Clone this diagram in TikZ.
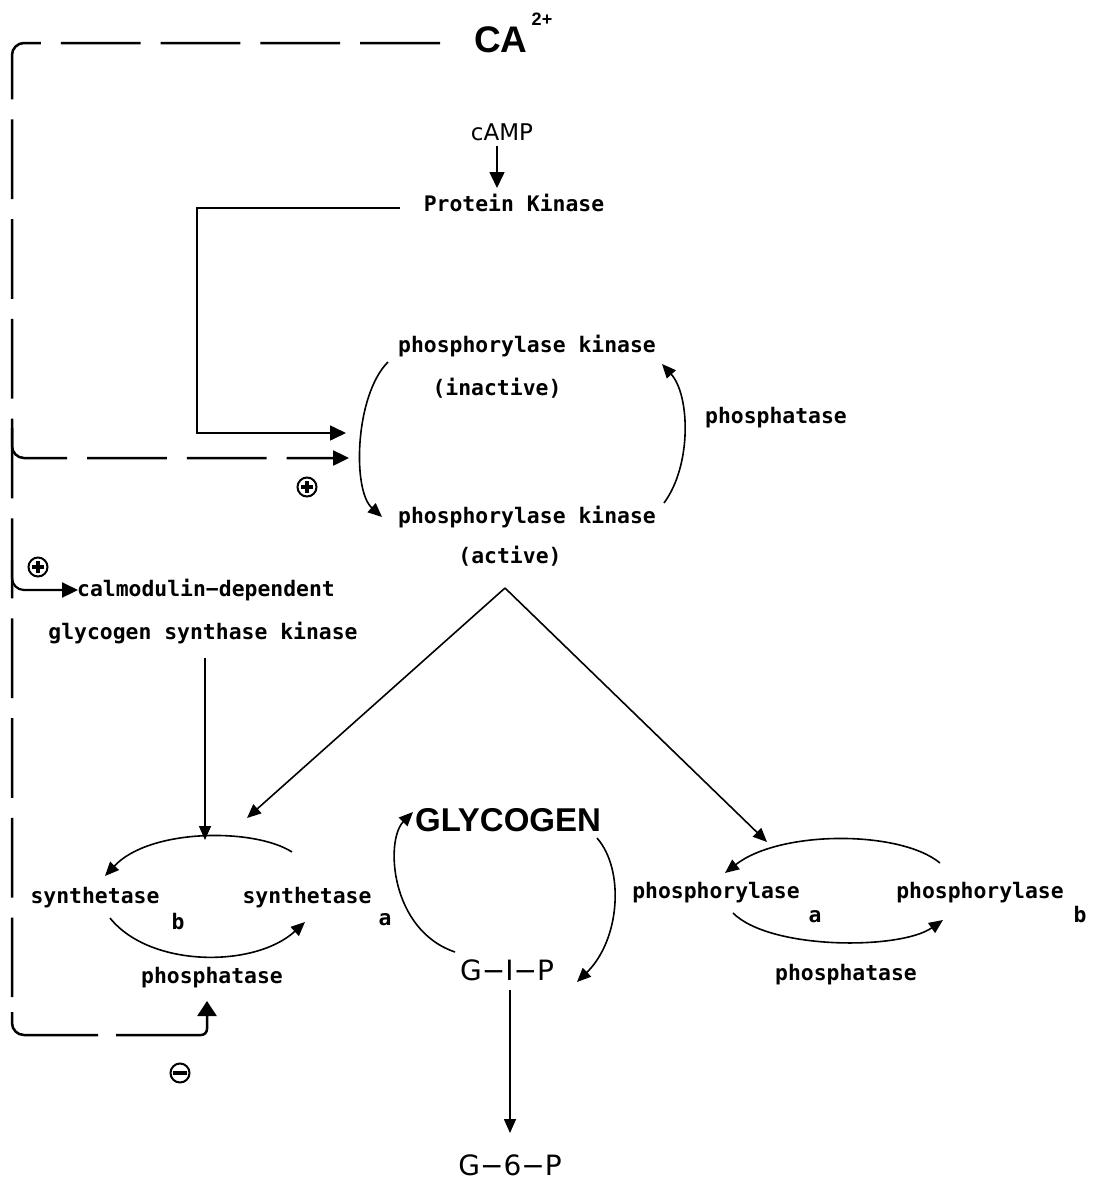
\documentclass[tikz,border=0pt]{standalone}
\usepackage{fontspec}
\usetikzlibrary{arrows.meta}
\newfontfamily\monof{DejaVu Sans Mono}
\newfontfamily\sansf{DejaVu Sans}
\newfontfamily\helvf{Liberation Sans}
\tikzset{
  lbl/.style={font=\monof\bfseries\fontsize{10.7}{12}\selectfont, inner sep=0pt},
  bigl/.style={font=\sansf\fontsize{14}{16}\selectfont, inner sep=0pt},
  heavy/.style={font=\helvf\bfseries\fontsize{16.5}{18}\selectfont, inner sep=0pt},
  thinl/.style={line width=0.8pt},
  tipS/.style={-{Triangle[length=7pt,width=6pt]}},
  tipL/.style={-{Triangle[length=8pt,width=7.5pt]}},
  tipXL/.style={-{Triangle[length=7.5pt,width=9.5pt]}},
  dsh/.style={line width=1.25pt, dash pattern=on 39.9pt off 10pt},
  plusc/.style={circle, draw, line width=1pt, minimum size=9.5pt, inner sep=0pt,
    path picture={
      \fill ([xshift=-3pt,yshift=-0.9pt]path picture bounding box.center) rectangle ([xshift=3pt,yshift=0.9pt]path picture bounding box.center);
      \fill ([xshift=-0.9pt,yshift=-3pt]path picture bounding box.center) rectangle ([xshift=0.9pt,yshift=3pt]path picture bounding box.center);}},
  minusc/.style={circle, draw, line width=1pt, minimum size=9.5pt, inner sep=0pt,
    path picture={
      \fill ([xshift=-3.5pt,yshift=-1.1pt]path picture bounding box.center) rectangle ([xshift=3.5pt,yshift=1.1pt]path picture bounding box.center);}}
}
\begin{document}
\begin{tikzpicture}[x=0.5pt,y=-0.5pt]
\useasboundingbox (0,0) rectangle (1098,1179);
\fill[white] (0,0) rectangle (1098,1179);

% ---- labels ----
\node[heavy, font=\helvf\bfseries\fontsize{18.5}{20}\selectfont] (ca) at (501,40) {CA};
\node[font=\helvf\bfseries\fontsize{9}{10}\selectfont, inner sep=0pt] (ca2) at (542,19) {2+};
\node[font=\sansf\fontsize{11.5}{13}\selectfont, inner sep=0pt] (camp) at (502,132) {cAMP};
\node[lbl] (pk) at (514,203) {Protein Kinase};
\node[lbl] (pkin) at (527,346) {phosphorylase kinase};
\node[lbl] (inact) at (497,388) {(inactive)};
\node[lbl] (kphos) at (776,418) {phosphatase};
\node[lbl] (pkac) at (527,517) {phosphorylase kinase};
\node[lbl] (act) at (510,556) {(active)};
\node[lbl] (calm) at (206,590) {calmodulin−dependent};
\node[lbl] (gsk) at (203,633) {glycogen synthase kinase};
\node[heavy] (glyc) at (508,820) {GLYCOGEN};
\node[lbl] (synb) at (95,898) {synthetase};
\node[lbl] (sb) at (178,922) {b};
\node[lbl] (syna) at (307,898) {synthetase};
\node[lbl] (sa) at (385,920) {a};
\node[lbl] (sphos) at (212,978) {phosphatase};
\node[bigl] (gip) at (507,970) {G−I−P};
\node[bigl] (g6p) at (510,1165) {G−6−P};
\node[lbl] (phora) at (716,893) {phosphorylase};
\node[lbl] (pa) at (815,917) {a};
\node[lbl] (phorb) at (980,893) {phosphorylase};
\node[lbl] (pb) at (1080,915) {b};
\node[lbl] (pphos) at (846,975) {phosphatase};
\node[plusc] (plus1) at (307,487) {};
\node[plusc] (plus2) at (38,567) {};
\node[minusc] (minus1) at (180,1073) {};

% ---- coordinates ----
\coordinate (castart) at (440,43);
\coordinate (leftmid) at (12,997);
\coordinate (leftlow) at (12,1012);
\coordinate (dashend) at (98,1035);
\coordinate (solstart) at (116,1035);
\coordinate (sphtip) at (207,1001);
\coordinate (br1) at (12,428);
\coordinate (kin2tip) at (349,458);
\coordinate (br2) at (12,560);
\coordinate (calmtip) at (78,590);
\coordinate (pkstart) at (400,208);
\coordinate (pkbend) at (197,433);
\coordinate (kin1tip) at (346,433);
\coordinate (camptail) at (497,146);
\coordinate (camptip) at (497,188);
\coordinate (kl0) at (388,362);
\coordinate (kl1) at (382,517);
\coordinate (kr0) at (664,503);
\coordinate (kr1) at (662,364);
\coordinate (apex) at (505,588);
\coordinate (synin) at (247,818);
\coordinate (phosin) at (767,842);
\coordinate (gsktop) at (205,658);
\coordinate (gsktip) at (205,840);
\coordinate (st0) at (292,852);
\coordinate (st1) at (105,876);
\coordinate (sb0) at (110,918);
\coordinate (sb1) at (305,922);
\coordinate (gl0) at (455,952);
\coordinate (gl1) at (413,812);
\coordinate (gr0) at (597,838);
\coordinate (gr1) at (577,982);
\coordinate (giptail) at (510,990);
\coordinate (giptip) at (510,1133);
\coordinate (pt0) at (940,863);
\coordinate (pt1) at (725,873);
\coordinate (pb0) at (733,913);
\coordinate (pb1) at (943,920);

% ---- Ca2+ dashed feedback ----
\draw[dsh, rounded corners=6pt] (castart) -| (leftmid);
\draw[line width=1.25pt, rounded corners=6pt] (leftlow) |- (dashend);
\draw[line width=1.25pt, rounded corners=3pt, tipXL] (solstart) -| (sphtip);
\draw[dsh, rounded corners=6pt, tipL] (br1) |- (kin2tip);
\draw[line width=1.1pt, rounded corners=6pt, tipL] (br2) |- (calmtip);

% ---- cAMP / protein kinase ----
\draw[thinl, tipL] (camptail) -- (camptip);
\draw[thinl, tipL] (pkstart) -| (pkbend) -- (kin1tip);

% ---- phosphorylase kinase cycle ----
\draw[thinl, tipS] (kl0) .. controls (355,395) and (352,490) .. (kl1);
\draw[thinl, tipS] (kr0) .. controls (692,465) and (690,395) .. (kr1);

% ---- activation lines ----
\draw[thinl, tipS] (apex) -- (synin);
\draw[thinl, tipS] (apex) -- (phosin);
\draw[thinl, tipS] (gsktop) -- (gsktip);

% ---- synthetase cycle ----
\draw[thinl, tipS] (st0) .. controls (255,828) and (150,828) .. (st1);
\draw[thinl, tipS] (sb0) .. controls (150,968) and (255,968) .. (sb1);

% ---- glycogen cycle ----
\draw[thinl, tipS] (gl0) .. controls (390,930) and (385,840) .. (gl1);
\draw[thinl, tipS] (gr0) .. controls (625,870) and (620,940) .. (gr1);
\draw[thinl, tipS] (giptail) -- (giptip);

% ---- phosphorylase cycle ----
\draw[thinl, tipS] (pt0) .. controls (900,830) and (780,830) .. (pt1);
\draw[thinl, tipS] (pb0) .. controls (770,950) and (900,950) .. (pb1);
\end{tikzpicture}
\end{document}
